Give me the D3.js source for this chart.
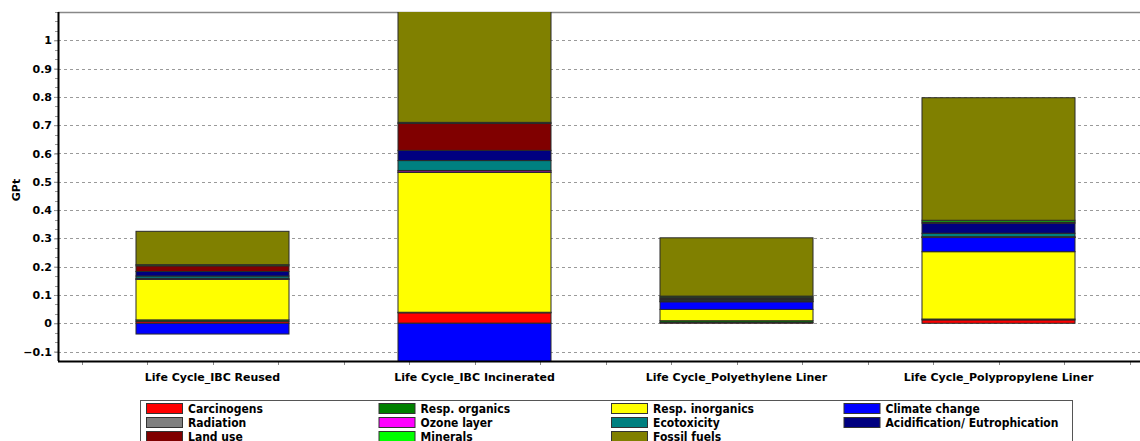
<!DOCTYPE html>
<html><head><meta charset="utf-8">
<script src="https://cdn.jsdelivr.net/npm/d3@7"></script>
<style>body{margin:0;background:#fff}svg{display:block}</style>
</head><body><svg id="c" width="1140" height="441"></svg>
<script>
const categories = ["Life Cycle_IBC Reused","Life Cycle_IBC Incinerated","Life Cycle_Polyethylene Liner","Life Cycle_Polypropylene Liner"];
const impactNames = ["Carcinogens","Resp. organics","Resp. inorganics","Climate change","Radiation","Ozone layer","Ecotoxicity","Acidification/ Eutrophication","Land use","Minerals","Fossil fuels"];
const impactColors = ["#ff0000","#008000","#ffff00","#0000ff","#808080","#ff00ff","#008080","#000080","#800000","#00ff00","#808000"];
const carcinogens   = [0.007, 0.037, 0.003, 0.012];
const respOrganics  = [0.005, 0.002, 0.006, 0.003];
const respInorganics= [0.143, 0.494, 0.040, 0.238];
const climateChange = [-0.038, -0.160, 0.027, 0.050];
const radiation     = [0.001, 0.002, 0.001, 0.001];
const ozoneLayer    = [0.003, 0.005, 0.003, 0.002];
const ecotoxicity   = [0.008, 0.035, 0.004, 0.012];
const acidification = [0.016, 0.036, 0.004, 0.036];
const landUse       = [0.020, 0.095, 0.004, 0.004];
const minerals      = [0.004, 0.004, 0.004, 0.006];
const fossilFuels   = [0.118, 0.400, 0.206, 0.433];
const yTicks = [-0.1,0,0.1,0.2,0.3,0.4,0.5,0.6,0.7,0.8,0.9,1];
const yLabel = "GPt";

const series = [carcinogens,respOrganics,respInorganics,climateChange,radiation,ozoneLayer,ecotoxicity,acidification,landUse,minerals,fossilFuels];
const rows = categories.map((c,i)=>{const o={cat:c}; impactNames.forEach((n,j)=>o[n]=series[j][i]); return o;});

const svg = d3.select("#c");
const L=58, T=12, R=1140, B=361;
const y = d3.scaleLinear().domain([-0.1333,1.1]).range([B,T]);
const x = d3.scaleBand().domain(categories).range([81.5,1129.5]).paddingInner(0.416).paddingOuter(0.208);

// grid
svg.append("g").selectAll("line").data(yTicks).join("line")
  .attr("x1",L).attr("x2",R).attr("y1",d=>Math.round(y(d))+0.5).attr("y2",d=>Math.round(y(d))+0.5)
  .attr("stroke","#9a9a9a").attr("stroke-dasharray","3,3");
// top border
svg.append("line").attr("x1",L).attr("x2",R).attr("y1",T+0.5).attr("y2",T+0.5).attr("stroke","#888").attr("stroke-width",1.5);

// bars
svg.append("clipPath").attr("id","clip").append("rect").attr("x",L).attr("y",T).attr("width",R-L).attr("height",B-T);
const stack = d3.stack().keys(impactNames).offset(d3.stackOffsetDiverging)(rows);
const bars = svg.append("g").attr("clip-path","url(#clip)");
stack.forEach((s,j)=>{
  bars.append("g").selectAll("rect").data(s).join("rect")
    .attr("x",d=>x(d.data.cat)).attr("width",x.bandwidth())
    .attr("y",d=>y(Math.max(d[0],d[1]))).attr("height",d=>Math.abs(y(d[0])-y(d[1])))
    .attr("fill",impactColors[j]).attr("stroke","#2a2a2a").attr("stroke-width",1);
});

// y axis
const ya = svg.append("g").attr("transform",`translate(${L},0)`)
  .call(d3.axisLeft(y).tickValues(yTicks).tickSize(4).tickFormat(d=>d3.format("")(+d.toFixed(1))));
ya.select(".domain").remove();
ya.selectAll(".tick line").attr("stroke","#888");
ya.selectAll("text").attr("font-family","DejaVu Sans").attr("font-weight","bold").attr("font-size","11px").attr("fill","#000").attr("x",-6);
const minor = d3.range(-4,34).map(i=>i/30).filter(v=>y(v)>=T && y(v)<=B);
svg.append("g").selectAll("line").data(minor).join("line")
  .attr("x1",L-3).attr("x2",L).attr("y1",d=>Math.round(y(d))+0.5).attr("y2",d=>Math.round(y(d))+0.5).attr("stroke","#999");
svg.append("line").attr("x1",L+0.5).attr("x2",L+0.5).attr("y1",T).attr("y2",B).attr("stroke","#000").attr("stroke-width",2);

// x axis
const step = x.step();
const xt = [];
categories.forEach(c=>{const cx=x(c)+x.bandwidth()/2; [-0.5,-0.25,0,0.25].forEach(f=>xt.push(cx+f*step));});
xt.push(x(categories[3])+x.bandwidth()/2+0.5*step);
svg.append("g").selectAll("line").data(xt).join("line")
  .attr("x1",d=>Math.round(d)+0.5).attr("x2",d=>Math.round(d)+0.5).attr("y1",B).attr("y2",B+4).attr("stroke","#888");
svg.append("line").attr("x1",L).attr("x2",R).attr("y1",B+0.5).attr("y2",B+0.5).attr("stroke","#000").attr("stroke-width",2);
svg.append("g").selectAll("text").data(categories).join("text")
  .attr("x",d=>x(d)+x.bandwidth()/2).attr("y",381).attr("text-anchor","middle")
  .attr("font-family","DejaVu Sans").attr("font-weight","bold").attr("font-size","11px").text(d=>d);
svg.append("text").attr("transform","translate(20,190) rotate(-90)").attr("text-anchor","middle")
  .attr("font-family","DejaVu Sans").attr("font-weight","bold").attr("font-size","11px").text(yLabel);

// legend
const lg = svg.append("g");
lg.append("rect").attr("x",140.5).attr("y",400.5).attr("width",932).attr("height",50).attr("fill","#fff").attr("stroke","#555");
impactNames.forEach((name,k)=>{
  const col=k%4,row=Math.floor(k/4);
  const gx=146+col*232.5, gy=403+row*14;
  lg.append("rect").attr("x",gx+0.5).attr("y",gy+0.5).attr("width",36).attr("height",10).attr("fill",impactColors[k]).attr("stroke","#333");
  lg.append("text").attr("x",gx+42).attr("y",gy+10).attr("font-family","DejaVu Sans Condensed, DejaVu Sans").attr("font-stretch","condensed").attr("font-weight","bold").attr("font-size","12px").text(name);
});
</script></body></html>
